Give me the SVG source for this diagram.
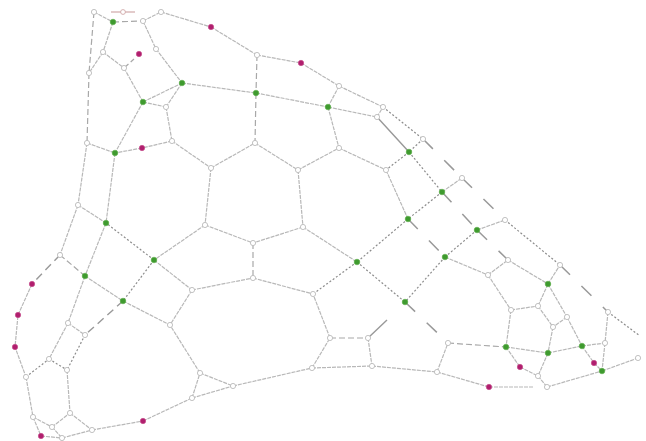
<svg xmlns="http://www.w3.org/2000/svg" width="646" height="441" viewBox="0 0 646 441">
<style>
.e{stroke:#b8b8b8;stroke-width:1.2;fill:none;stroke-dasharray:4 1}
.k{stroke:#999;stroke-width:1.4;fill:none}
.m{stroke:#a8a8a8;stroke-width:1.2;fill:none;stroke-dasharray:6 3}
.n{stroke:#999;stroke-width:1.4;fill:none;stroke-dasharray:8 5}
.d{stroke:#8c8c8c;stroke-width:1.2;fill:none;stroke-dasharray:2 2}
.l{stroke:#999;stroke-width:1.5;fill:none;stroke-dasharray:14 16}
.p{stroke:#d0a8a8;stroke-width:1.2;fill:none}
.w{fill:#fff;stroke:#bbb;stroke-width:0.9}
.g{fill:#3f9a2f;stroke:#5aae48;stroke-width:0.6}
.r{fill:#b01f6e;stroke:#c64a8a;stroke-width:0.6}
</style>
<rect width="646" height="441" fill="#fff"/>
<g id="connectors">
<path class="e" d="M94,12L113,22M113,22L103,52M103,52L89,73M103,52L124,68M124,68L143,102M143,21L161,12M143,21L156,49M156,49L182,83M161,12L211,27M211,27L257,55M257,55L301,63M301,63L339,86M339,86L383,107M339,86L328,107M143,102L182,83M143,102L166,107M182,83L166,107M166,107L172,141M182,83L256,93M256,93L328,107M328,107L377,117M377,117L383,107M328,107L339,148M143,102L115,153M87,143L115,153M172,141L142,148M142,148L115,153M172,141L211,168M211,168L255,143M255,143L298,170M298,170L339,148M339,148L386,170M386,170L408,219M211,168L205,225M298,170L303,227M205,225L253,243M303,227L253,243M303,227L357,262M205,225L154,260M87,143L78,205M115,153L106,223M78,205L106,223M78,205L60,255M106,223L85,276M154,260L192,290M192,290L253,278M253,278L313,294M192,290L170,325M123,301L170,325M85,276L123,301M85,276L68,323M68,323L85,335M68,323L49,359M32,284L18,315L15,347L26,377M26,377L33,417M33,417L52,427M52,427L70,413M67,370L70,413M70,413L92,430M33,417L41,436M41,436L62,438M52,427L62,438M62,438L92,430M92,430L143,421M143,421L192,398M192,398L200,373M200,373L170,325M200,373L233,386M192,398L233,386M233,386L312,368M312,368L330,338M330,338L313,294M312,368L372,366M368,338L372,366M372,366L437,372M437,372L448,343M437,372L489,387M489,387L533,387M442,192L462,178M477,230L505,220M445,257L488,275M488,275L508,260M508,260L548,284M548,284L560,265M488,275L511,310M511,310L538,306M538,306L548,284M548,284L567,317M567,317L582,346M567,317L553,327M538,306L553,327M553,327L548,353M511,310L506,347M506,347L548,353M548,353L582,346M582,346L605,343M506,347L520,367M520,367L538,376M548,353L538,376M538,376L547,387M582,346L594,363M594,363L602,371M605,343L602,371M608,312L605,343M602,371L638,358M547,387L602,371"/>
<path class="k" d="M377,117L409,152M368,338L387,320"/>
<path class="m" d="M94,12L89,73M89,73L87,143M113,22L143,21M257,55L256,93M256,93L255,143M253,243L253,278M330,338L368,338M60,255L85,276M124,68L134,59M448,343L506,347"/>
<path class="n" d="M60,255L32,284M123,301L85,335"/>
<path class="l" d="M423,139L462,178M462,178L505,220M560,265L608,312M442,192L477,230M408,219L445,257M405,302L448,343M477,230L508,260"/>
<path class="d" d="M49,359L67,370M85,335L67,370M26,377L49,359M383,107L423,139M423,139L409,152M409,152L386,170M409,152L442,192M442,192L408,219M408,219L357,262M357,262L313,294M357,262L405,302M477,230L445,257M445,257L405,302M505,220L560,265M608,312L640,336M154,260L106,223M154,260L123,301"/>
<path class="p" d="M111,12L135,12"/>
</g>
<g id="nodes">
<g id="w1"><circle class="w" cx="94" cy="12" r="2.6"/></g>
<g id="w2"><circle class="w" cx="143" cy="21" r="2.6"/></g>
<g id="w3"><circle class="w" cx="161" cy="12" r="2.6"/></g>
<g id="w4"><circle class="w" cx="103" cy="52" r="2.6"/></g>
<g id="w5"><circle class="w" cx="156" cy="49" r="2.6"/></g>
<g id="w6"><circle class="w" cx="124" cy="68" r="2.6"/></g>
<g id="w7"><circle class="w" cx="89" cy="73" r="2.6"/></g>
<g id="w8"><circle class="w" cx="166" cy="107" r="2.6"/></g>
<g id="w9"><circle class="w" cx="87" cy="143" r="2.6"/></g>
<g id="w10"><circle class="w" cx="172" cy="141" r="2.6"/></g>
<g id="w11"><circle class="w" cx="257" cy="55" r="2.6"/></g>
<g id="w12"><circle class="w" cx="339" cy="86" r="2.6"/></g>
<g id="w13"><circle class="w" cx="383" cy="107" r="2.6"/></g>
<g id="w14"><circle class="w" cx="377" cy="117" r="2.6"/></g>
<g id="w15"><circle class="w" cx="423" cy="139" r="2.6"/></g>
<g id="w16"><circle class="w" cx="339" cy="148" r="2.6"/></g>
<g id="w17"><circle class="w" cx="255" cy="143" r="2.6"/></g>
<g id="w18"><circle class="w" cx="211" cy="168" r="2.6"/></g>
<g id="w19"><circle class="w" cx="298" cy="170" r="2.6"/></g>
<g id="w20"><circle class="w" cx="386" cy="170" r="2.6"/></g>
<g id="w21"><circle class="w" cx="205" cy="225" r="2.6"/></g>
<g id="w22"><circle class="w" cx="303" cy="227" r="2.6"/></g>
<g id="w23"><circle class="w" cx="253" cy="243" r="2.6"/></g>
<g id="w24"><circle class="w" cx="253" cy="278" r="2.6"/></g>
<g id="w25"><circle class="w" cx="462" cy="178" r="2.6"/></g>
<g id="w26"><circle class="w" cx="505" cy="220" r="2.6"/></g>
<g id="w27"><circle class="w" cx="78" cy="205" r="2.6"/></g>
<g id="w28"><circle class="w" cx="60" cy="255" r="2.6"/></g>
<g id="w29"><circle class="w" cx="192" cy="290" r="2.6"/></g>
<g id="w30"><circle class="w" cx="313" cy="294" r="2.6"/></g>
<g id="w31"><circle class="w" cx="170" cy="325" r="2.6"/></g>
<g id="w32"><circle class="w" cx="68" cy="323" r="2.6"/></g>
<g id="w33"><circle class="w" cx="85" cy="335" r="2.6"/></g>
<g id="w34"><circle class="w" cx="49" cy="359" r="2.6"/></g>
<g id="w35"><circle class="w" cx="67" cy="370" r="2.6"/></g>
<g id="w36"><circle class="w" cx="26" cy="377" r="2.6"/></g>
<g id="w37"><circle class="w" cx="70" cy="413" r="2.6"/></g>
<g id="w38"><circle class="w" cx="33" cy="417" r="2.6"/></g>
<g id="w39"><circle class="w" cx="52" cy="427" r="2.6"/></g>
<g id="w40"><circle class="w" cx="62" cy="438" r="2.6"/></g>
<g id="w41"><circle class="w" cx="92" cy="430" r="2.6"/></g>
<g id="w42"><circle class="w" cx="192" cy="398" r="2.6"/></g>
<g id="w43"><circle class="w" cx="200" cy="373" r="2.6"/></g>
<g id="w44"><circle class="w" cx="233" cy="386" r="2.6"/></g>
<g id="w45"><circle class="w" cx="312" cy="368" r="2.6"/></g>
<g id="w46"><circle class="w" cx="330" cy="338" r="2.6"/></g>
<g id="w47"><circle class="w" cx="368" cy="338" r="2.6"/></g>
<g id="w48"><circle class="w" cx="372" cy="366" r="2.6"/></g>
<g id="w49"><circle class="w" cx="437" cy="372" r="2.6"/></g>
<g id="w50"><circle class="w" cx="448" cy="343" r="2.6"/></g>
<g id="w51"><circle class="w" cx="488" cy="275" r="2.6"/></g>
<g id="w52"><circle class="w" cx="508" cy="260" r="2.6"/></g>
<g id="w53"><circle class="w" cx="560" cy="265" r="2.6"/></g>
<g id="w54"><circle class="w" cx="511" cy="310" r="2.6"/></g>
<g id="w55"><circle class="w" cx="538" cy="306" r="2.6"/></g>
<g id="w56"><circle class="w" cx="567" cy="317" r="2.6"/></g>
<g id="w57"><circle class="w" cx="553" cy="327" r="2.6"/></g>
<g id="w58"><circle class="w" cx="608" cy="312" r="2.6"/></g>
<g id="w59"><circle class="w" cx="605" cy="343" r="2.6"/></g>
<g id="w60"><circle class="w" cx="538" cy="376" r="2.6"/></g>
<g id="w61"><circle class="w" cx="547" cy="387" r="2.6"/></g>
<g id="w62"><circle class="w" cx="638" cy="358" r="2.6"/></g>
<g id="w63"><circle class="w" cx="123" cy="12" r="2.4" style="stroke:#d0a8a8"/></g>
<g id="g1"><circle class="g" cx="113" cy="22" r="2.8"/></g>
<g id="g2"><circle class="g" cx="143" cy="102" r="2.8"/></g>
<g id="g3"><circle class="g" cx="182" cy="83" r="2.8"/></g>
<g id="g4"><circle class="g" cx="256" cy="93" r="2.8"/></g>
<g id="g5"><circle class="g" cx="328" cy="107" r="2.8"/></g>
<g id="g6"><circle class="g" cx="115" cy="153" r="2.8"/></g>
<g id="g7"><circle class="g" cx="106" cy="223" r="2.8"/></g>
<g id="g8"><circle class="g" cx="154" cy="260" r="2.8"/></g>
<g id="g9"><circle class="g" cx="85" cy="276" r="2.8"/></g>
<g id="g10"><circle class="g" cx="123" cy="301" r="2.8"/></g>
<g id="g11"><circle class="g" cx="409" cy="152" r="2.8"/></g>
<g id="g12"><circle class="g" cx="442" cy="192" r="2.8"/></g>
<g id="g13"><circle class="g" cx="408" cy="219" r="2.8"/></g>
<g id="g14"><circle class="g" cx="477" cy="230" r="2.8"/></g>
<g id="g15"><circle class="g" cx="357" cy="262" r="2.8"/></g>
<g id="g16"><circle class="g" cx="445" cy="257" r="2.8"/></g>
<g id="g17"><circle class="g" cx="405" cy="302" r="2.8"/></g>
<g id="g18"><circle class="g" cx="548" cy="284" r="2.8"/></g>
<g id="g19"><circle class="g" cx="506" cy="347" r="2.8"/></g>
<g id="g20"><circle class="g" cx="548" cy="353" r="2.8"/></g>
<g id="g21"><circle class="g" cx="582" cy="346" r="2.8"/></g>
<g id="g22"><circle class="g" cx="602" cy="371" r="2.8"/></g>
<g id="m1"><circle class="r" cx="211" cy="27" r="2.7"/></g>
<g id="m2"><circle class="r" cx="139" cy="54" r="2.7"/></g>
<g id="m3"><circle class="r" cx="301" cy="63" r="2.7"/></g>
<g id="m4"><circle class="r" cx="142" cy="148" r="2.7"/></g>
<g id="m5"><circle class="r" cx="32" cy="284" r="2.7"/></g>
<g id="m6"><circle class="r" cx="18" cy="315" r="2.7"/></g>
<g id="m7"><circle class="r" cx="15" cy="347" r="2.7"/></g>
<g id="m8"><circle class="r" cx="41" cy="436" r="2.7"/></g>
<g id="m9"><circle class="r" cx="143" cy="421" r="2.7"/></g>
<g id="m10"><circle class="r" cx="489" cy="387" r="2.7"/></g>
<g id="m11"><circle class="r" cx="520" cy="367" r="2.7"/></g>
<g id="m12"><circle class="r" cx="594" cy="363" r="2.7"/></g>
</g>
</svg>
